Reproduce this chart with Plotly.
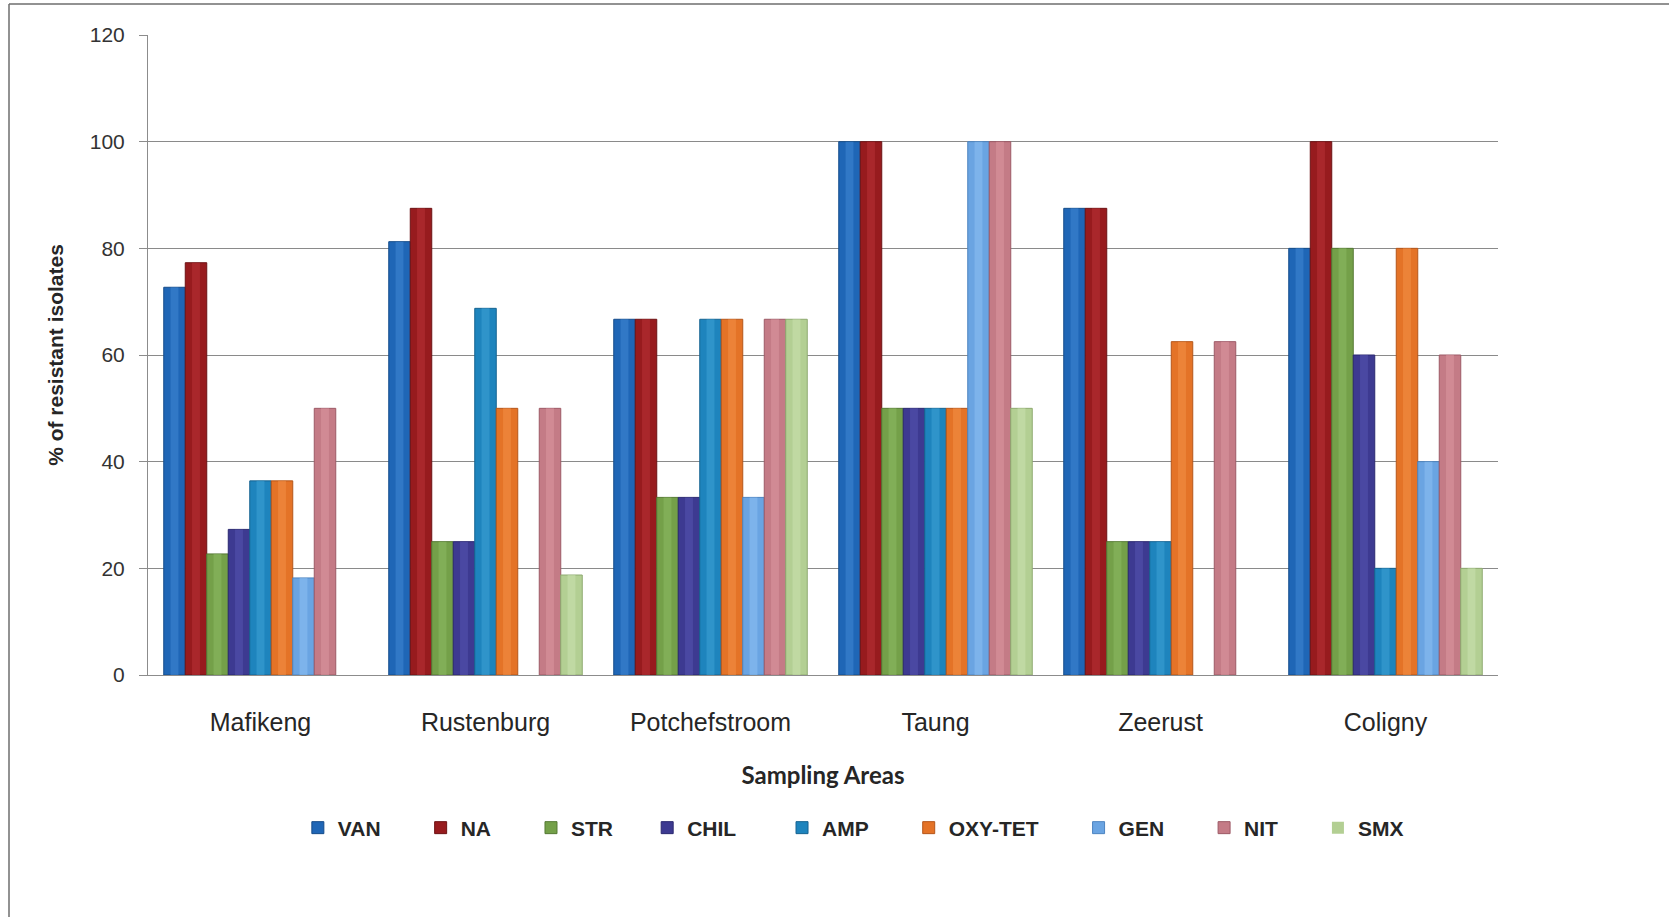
import plotly.graph_objects as go

areas = ["Mafikeng", "Rustenburg", "Potchefstroom", "Taung", "Zeerust", "Coligny"]

VAN = [72.7, 81.25, 66.7, 100, 87.5, 80]
NA = [77.3, 87.5, 66.7, 100, 87.5, 100]
STR = [22.7, 25, 33.3, 50, 25, 80]
CHIL = [27.3, 25, 33.3, 50, 25, 60]
AMP = [36.4, 68.75, 66.7, 50, 25, 20]
OXY_TET = [36.4, 50, 66.7, 50, 62.5, 80]
GEN = [18.2, 0, 33.3, 100, 0, 40]
NIT = [50, 50, 66.7, 100, 62.5, 60]
SMX = [0, 18.75, 66.7, 50, 0, 20]

series_names = ["VAN", "NA", "STR", "CHIL", "AMP", "OXY-TET", "GEN", "NIT", "SMX"]
series_values = [VAN, NA, STR, CHIL, AMP, OXY_TET, GEN, NIT, SMX]
colors = ["#1f66b6", "#971b1e", "#74a049", "#3d3a91", "#1e84bd",
          "#e47327", "#6aa4e2", "#c47b86", "#b3cf93"]
edge_colors = ["#154c8a", "#6d1214", "#557a34", "#2b2970", "#166391",
               "#b5561a", "#4d84c0", "#9d5a66", "#8eaa70"]
highlight = ["#3f86d4", "#b83236", "#8cba62", "#5653b0", "#3ea2d6",
             "#f39047", "#8cc0f2", "#dc97a1", "#cbe2b0"]
pad = {"VAN": 6, "NA": 6, "STR": 5, "CHIL": 7, "AMP": 6, "OXY-TET": 6,
       "GEN": 6, "NIT": 6, "SMX": 6}

fig = go.Figure()
for name, vals, c, ec in zip(series_names, series_values, colors, edge_colors):
    fig.add_trace(go.Bar(
        x=areas, y=vals, name=name + "\u00a0" * pad[name],
        marker=dict(color=c, line=dict(color=ec, width=[1 if v > 0 else 0 for v in vals])),
        xaxis="x", yaxis="y",
    ))
# lighter central stripe to suggest the cylindrical shading of the original bars
for name, vals, hc in zip(series_names, series_values, highlight):
    fig.add_trace(go.Bar(
        x=areas, y=vals, name=name, showlegend=False, hoverinfo="skip",
        marker=dict(color=hc, line=dict(width=0)), opacity=0.55,
        width=0.035, xaxis="x2", yaxis="y",
    ))

L, R, T, B = 148, 1669 - 1498, 35, 917 - 675
W, H = 1669 - L - R, 917 - T - B

fig.update_layout(
    width=1669, height=917,
    margin=dict(l=L, r=R, t=T, b=B, autoexpand=False),
    paper_bgcolor="white", plot_bgcolor="white",
    barmode="group", bargap=0.14, bargroupgap=0,
    font=dict(family="Liberation Sans, Arial, sans-serif", color="#262626"),
    showlegend=True,
    legend=dict(
        orientation="h", x=0.111, xanchor="left", y=(675 - 828) / H, yanchor="middle",
        font=dict(family="Liberation Sans, Arial", size=21, color="#262626", weight="bold"),
        itemwidth=30, bgcolor="rgba(0,0,0,0)", traceorder="normal",
    ),
    xaxis=dict(
        showline=True, linecolor="#8c8c8c", linewidth=1,
        ticks="", tickfont=dict(size=25, color="#262626"),
        ticklabelstandoff=25,
        title=dict(text="<b>Sampling Areas</b>",
                   font=dict(family="Lato, Open Sans, sans-serif", size=24, color="#262626"),
                   standoff=32),
        automargin=False,
    ),
    xaxis2=dict(
        overlaying="x", matches="x", showline=False, showticklabels=False,
        showgrid=False, ticks="", automargin=False,
    ),
    yaxis=dict(
        range=[0, 120], dtick=20, tick0=0,
        showgrid=True, gridcolor="#8a8a8a", gridwidth=1,
        showline=True, linecolor="#8c8c8c", linewidth=1,
        ticks="outside", ticklen=8, tickcolor="#8c8c8c",
        tickfont=dict(size=21, color="#333333"),
        ticklabelstandoff=10,
        zeroline=False,
        title=dict(text="<b>% of resistant isolates</b>",
                   font=dict(size=21, color="#262626"), standoff=20),
        automargin=False,
    ),
    shapes=[
        dict(type="line", xref="paper", yref="paper",
             x0=(9 - L) / W, x1=(1669 - L) / W, y0=(675 - 4) / H, y1=(675 - 4) / H,
             line=dict(color="#6e6e6e", width=1.5)),
        dict(type="line", xref="paper", yref="paper",
             x0=(9 - L) / W, x1=(9 - L) / W, y0=(675 - 4) / H, y1=(675 - 917) / H,
             line=dict(color="#6e6e6e", width=1.5)),
    ],
)

fig.write_html("out.html")
